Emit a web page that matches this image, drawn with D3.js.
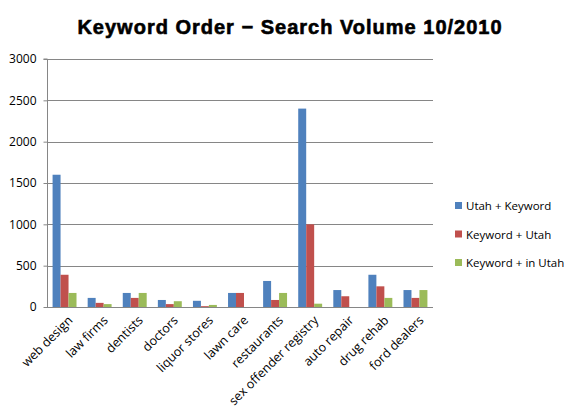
<!DOCTYPE html>
<html><head><meta charset="utf-8">
<script src="https://cdn.jsdelivr.net/npm/d3@7"></script>
<style>body{margin:0;background:#fff}svg{display:block}text{font-family:"Open Sans",Lato,sans-serif}</style>
</head><body><svg id="c" width="578" height="414"></svg>
<script>
const categories = ["web design","law firms","dentists","doctors","liquor stores","lawn care","restaurants","sex offender registry","auto repair","drug rehab","ford dealers"];
const seriesNames = ["Utah + Keyword","Keyword + Utah","Keyword + in Utah"];
const utahKeyword   = [1600,110,170,85,75,170,315,2400,205,390,205];
const keywordUtah   = [390,50,110,35,10,170,85,1000,130,250,110];
const keywordInUtah = [170,35,170,70,25,0,170,40,0,110,205];
const yTicks = [0,500,1000,1500,2000,2500,3000];
const colors = ["#4F81BD","#C0504D","#9BBB59"];
const title = "Keyword Order \u2212 Search Volume 10/2010";

const series = [utahKeyword, keywordUtah, keywordInUtah];
const svg = d3.select("#c");
const L = 47, R = 433, T = 59, B = 307;
const x = d3.scaleBand().domain(categories).range([L, R]).paddingInner(0).paddingOuter(0);
const y = d3.scaleLinear().domain([0,3000]).range([B, T]);
const inner = d3.scaleBand().domain([0,1,2]).range([0, x.bandwidth()]).paddingInner(0).paddingOuter(0.7);

svg.append("text").attr("x", 290).attr("y", 34).attr("text-anchor","middle")
  .style("font-family","'Liberation Sans',Arial,sans-serif").attr("font-weight","bold")
  .attr("font-size", 20).attr("letter-spacing", 1).attr("stroke","#000").attr("stroke-width",0.6)
  .attr("fill","#000").text(title);

// gridlines
svg.append("g").selectAll("line").data(yTicks.filter(d=>d>0)).join("line")
  .attr("x1", L).attr("x2", R).attr("y1", d=>Math.round(y(d))+0.5).attr("y2", d=>Math.round(y(d))+0.5)
  .attr("stroke","#868686").attr("stroke-width",1);

// bars
const g = svg.append("g");
series.forEach((vals, si) => {
  g.selectAll(null).data(vals).join("rect")
    .attr("x", (d,i)=>x(categories[i]) + inner(si))
    .attr("width", inner.bandwidth())
    .attr("y", d=>y(d)).attr("height", d=>B - y(d))
    .attr("fill", colors[si]);
});

// y axis
const ya = svg.append("g").attr("transform",`translate(${L+0.5},0)`)
  .call(d3.axisLeft(y).tickValues(yTicks).tickSize(4).tickPadding(7).tickFormat(d3.format("d")));
ya.select(".domain").attr("stroke","#868686").attr("d", `M-4,${T}H0V${B}`);
ya.selectAll(".tick line").attr("stroke","#868686");
ya.selectAll("text").attr("font-size", 12).attr("fill","#000").style("font-family","'Open Sans',sans-serif");

// x axis
svg.append("line").attr("x1", L).attr("x2", R).attr("y1", B+0.5).attr("y2", B+0.5).attr("stroke","#868686");
const xa = svg.append("g").attr("transform",`translate(0,${B})`)
  .call(d3.axisBottom(x).tickSize(0).tickPadding(0));
xa.select(".domain").remove();
xa.selectAll(".tick text").attr("font-size", 12.5).attr("fill","#000")
  .attr("text-anchor","end").attr("dy", 0)
  .attr("transform","translate(9,14) rotate(-45)");

// legend
const lg = svg.append("g");
seriesNames.forEach((n, i) => {
  const yy = 206 + i*28.5;
  lg.append("rect").attr("x", 455).attr("y", yy-4).attr("width", 7).attr("height", 7).attr("fill", colors[i]);
  lg.append("text").attr("x", 466).attr("y", yy+4).attr("font-size", 11.5).attr("fill","#000").text(n);
});
</script></body></html>
